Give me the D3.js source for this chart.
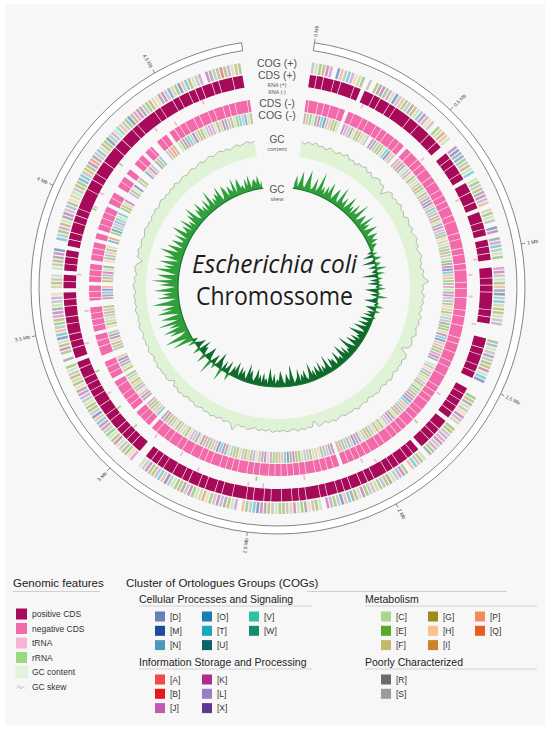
<!DOCTYPE html>
<html><head><meta charset="utf-8">
<script src="https://cdn.jsdelivr.net/npm/d3@7"></script>
<style>body{margin:0;background:#fff}svg{display:block}</style>
</head><body>
<svg id="c" width="550" height="731"></svg>
<script>
// ---------------- DATA ----------------
const genomeLength = 4.8; // Mb
const tickValues = [0, 0.5, 1, 1.5, 2, 2.5, 3, 3.5, 4, 4.5];
const tickLabels = ["0 Mb","0.5 Mb","1 Mb","1.5 Mb","2 Mb","2.5 Mb","3 Mb","3.5 Mb","4 Mb","4.5 Mb"];

// gene occupancy per bin: '#' gene, ':' new gene starts, '.' no gene
const cdsPlus = [
 "##:#:##:#:###:#.:##:#:##:#:###",
 "#:##:###:##:#..:#:#:##:#.:##:#",
 "#:#.:##:#:#.:#:#:#..:##:#:#:##",
 "##:#:#....:##:#:##:#:#...:#:#:",
 "#:#:#.:##:#:#:##.:#:#:##:#:#:#",
 "##:#:#:##:#:#:##:#:###:#:#:##:",
 "##:#:##:#:###:##:#:##:#:##:#:#",
 "#:##:#:#:#..:##:#:#:#:##:#:##:",
 "##:#:#:#:##:#.:##:#:#:##:#:##:",
 "#:#.:#:#.:#:#:#.:#:#:##:#:#:##",
 "###:##:#:###:####:##:###:#:###",
 "##:#:###:#:##:#:#:##:#:###:##."
].join("");
const cdsMinus = [
 "#:##:#:#:##:#.:#:##:#:##:#:#:#",
 "#:#:#.:#:##:#:#:##:#:##:#:#:#:",
 "##:#:###:#:##:#:##:#:###:#:##:",
 "###:#:##:###:#:##:##:#:##:###:",
 "#:#:#:##:#:#:##:#:#:#:##:#:##:",
 "#:#:#:#:#.:#:#:#:#:##:#:#:#:#:",
 "#:#:##:#:#:##:#:#:#:##:#:#:##:",
 "##:#:##:#:##:#.:#:#:#.:#:#:#:#",
 "#:#.:#:#:#..:##:#:#.:#:#:#:#..",
 "#:#:#.:#:#:#.:#:#:#.:#.:#:#:#:",
 "#.:#:#..:#:#.:#..:#:#.:#:..:#:",
 "#.:#:#:#:##:#:##:#:##:#:#:###:"
].join("");
// COG category of the gene in each bin ('.' = no COG)
const cogPlus = [
 "SCEGKJ.MPSTLHFECS.GRKEJCMSPESR",
 "GCTKLHS.EFGPCSJKMROESGCTSCESGR",
 "KLPHFECS.MKGRJTSCESGJKSCEPRMST",
 "FEGCSL.RKHEDCSRSEGKCTMPSJ.EGRC",
 "SHKLFCEGSJJKSJERMCGSTP.EKDSCRG",
 "LEFSSEKCGRTPMSEJK.CGSHRECKFSGE",
 "CSGRKMTSEP.JCGRLKSEHGFCEKSRGEC",
 "SMPTLGEKSC.RJHEGSCKGCESRKTPMSE",
 "GCSLKRHEFGSCESR.EKGCMTPSEGJKRC",
 "SLHEFGSCECSGRKMP.TSEJGCRKSLEHF",
 "CSGEOTSIEKQRSNCGEUSLCVPSEMGJKR",
 "SEGCHRKSOFEMPTGCSJ.KRSEBGLCIES"
].join("");
const cogMinus = [
 "GSECRKTMSPGECLKJSRHEGFCS.KRSEG",
 "CTMPSEJGKRCSLHEFCSGECGSRKMPTSE",
 "JGCRKSLEHFCSEGSCERKMTPSEGJCRKS",
 "LEHFGCSSREGCKTMPSGEJKR.CSHLEFC",
 "SGCESGRKMTPSEJGCRKLSHEFGCSEGSC",
 "RKMPTSEJGCKRSLEHFCGSSCEGKRMTPS",
 "GEJCKRSHLEFGSCGESCRKTMPSEJGKCR",
 "SLHEFCSGCSGEKRMTPSEGJCRKSHLEFG",
 "CSESGCRKMPTSEJGCKRSLHEFCSGSGEC",
 "RKTMPSGEJKCRSHELFGCSOQIEUNSDVC",
 "TSEGCKRSLEHMPSGCEOFKSJRGTCESIA",
 "GSCEKRTSMPEGCSJLHEFKRSGCETSOCG"
].join("");

// RNA genes (Mb)
const trnaPlus  = [0.23, 0.78, 1.03, 1.29, 1.99, 2.46, 2.52, 2.73, 3.21, 3.43, 3.71, 3.99, 4.05, 4.39, 4.61];
const rrnaPlus  = [3.04, 3.14, 3.31, 3.98, 4.19];
const trnaMinus = [0.56, 1.09, 1.18, 1.61, 2.04, 2.29, 2.82, 2.95, 3.56, 4.47];
const rrnaMinus = [1.76, 2.49];

// GC content (%) per window
const gcContent = [
 51.4,51.0,51.6,51.2,51.8,51.1,51.5,50.9,51.7,51.3,51.0,51.6,51.2,51.9,51.1,51.4,50.8,51.5,51.2,51.7,
 51.0,51.4,50.7,51.3,51.6,50.9,51.2,49.4,51.1,51.5,50.8,51.3,51.0,51.6,50.9,51.2,50.6,51.4,51.1,50.8,
 51.3,50.7,51.1,51.5,50.9,51.2,50.6,51.0,51.4,50.8,51.1,50.5,51.3,50.9,51.2,52.2,50.8,51.0,50.6,51.3,
 50.9,51.2,50.7,51.0,50.5,51.3,50.8,51.1,50.6,50.9,51.2,50.4,50.8,51.1,50.7,49.2,50.9,51.2,50.6,51.0,
 50.7,51.1,50.5,50.9,51.2,50.6,51.0,50.4,50.8,51.1,50.7,50.9,50.3,51.0,50.6,50.8,51.2,50.5,50.9,50.7,
 51.0,50.4,50.8,51.1,50.6,50.9,50.3,50.7,51.0,49.5,50.8,50.5,50.9,50.6,51.0,50.4,50.7,50.9,50.5,50.8,
 50.6,51.0,50.4,50.8,50.5,50.9,50.3,50.7,51.1,50.6,50.8,50.4,52.0,50.7,50.5,50.9,50.3,50.8,50.6,51.0,
 50.5,50.8,50.3,50.7,50.9,50.4,50.6,50.2,50.8,50.5,50.9,50.3,50.7,49.6,50.6,50.8,50.4,50.7,50.5,50.9,
 50.4,50.7,50.2,50.6,50.9,50.3,50.7,50.5,50.8,50.2,50.6,50.9,50.4,50.7,50.3,50.6,50.8,50.4,50.7,50.5,
 50.8,50.3,50.6,50.9,50.4,50.7,50.2,50.6,50.8,50.4,49.3,50.7,50.5,50.9,50.3,50.6,50.8,50.4,50.7,51.0,
 50.5,50.8,50.4,50.9,50.6,51.0,50.5,50.8,51.1,50.6,50.9,50.5,51.0,50.7,51.2,50.6,50.9,51.1,50.7,51.0,
 51.2,50.8,51.1,51.4,50.9,51.2,51.5,51.0,51.3,51.6,51.1,51.4,50.9,51.3,51.6,51.1,51.4,51.7,51.2,51.5
];

// GC skew (relative units, -10..10) per window
const gcSkew = [
 2,5,1,3,7,2,1,4,8,3, 1,2,6,1,3,9,2,4,1,5, 2,7,3,1,4,6,2,1,8,3, 2,5,1,3,7,2,4,1,6,2, 3,8,1,2,5,3,1,7,2,4, 1,3,6,2,1,5,3,2,4,1, 3,2,1,
 1,-2,2,-4,1,3,-1,-5,2,1, -3,4,-1,-2,3,-6,-1,2,-3,1, -4,2,-1,3,-5,-2,1,-3,4,-1, -2,-5,1,-1,3,-4,-2,2,-3,-1, -4,1,-2,-5,-1,
 -2,-5,-1,-3,-6,-2,-1,-4,-7,-2, -3,-1,-5,-2,-3,-6,-1,-2,-4,-8, -2,-3,-1,-5,-2,-4,-7,-1,-3,-2, -6,-2,-1,-4,-3,-5,-1,-2,-7,-3,
 -2,-4,-1,-6,-2,-3,-5,-1,-4,-2, -7,-3,-1,-2,-5,-2,-4,-1,-6,-3, -2,-1,-4,-8,-2,-3,-5,-1,-2,-4, -6,-2,-3,-1,-5,-2,-4,-7,-1,-3,
 -2,-5,-1,-4,-2,-6,-3,-1,-2,-5, -3,-7,-1,-2,-4,-2,-5,-1,-3,-6, -2,-4,-1,3,-5,-2,-1,-4,5,-2, -3,-6,-1,2,-4,-2,6,-1,-3,-5,
 -2,4,-1,-3,-2,-5,3,-1,-4,-2, -1,3,-2,
 3,8,2,5,10,3,1,7,4,9, 2,6,3,10,2,5,8,1,4,9, 3,7,2,5,10,4,1,8,3,6, 2,9,4,1,7,3,10,2,5,8, 1,4,9,3,6,2,8,4,1,7, 3,5,9,2,4,7,1,3,6,2,
 2,6,1,4,8,2,3,5,1,7, 2,4,1,6,3,8,2,1,5,3, 7,2,4,1,6,2,3,8,1,4, 2,5,3,7,1,2,6,4,1,5, 3,2,7,1,4,6,2,3,1,5, 2,6,1,3,4,2,5,1,3
];

// Legends
const featureLabels = ["positive CDS","negative CDS","tRNA","rRNA","GC content","GC skew"];
const featureColors = ["#a60a58","#f26aaa","#f7b4d7","#9ad97d","#e3f4da","none"];
const groupTitles = ["Cellular Processes and Signaling","Information Storage and Processing","Metabolism","Poorly Characterized"];
const groupCodes = [["D","M","N","O","T","U","V","W"],["A","B","J","K","L","X"],["C","E","F","G","H","I","P","Q"],["R","S"]];
const cogColorCodes = ["D","M","N","O","T","U","V","W","A","B","J","K","L","X","C","E","F","G","H","I","P","Q","R","S"];
const cogColorValues = ["#6a7fb9","#1a4c9c","#4f98b8","#1d7ab3","#18a9b8","#0c6369","#2cc3a2","#138d6e",
 "#f04a4a","#e3171c","#c35ab0","#ae2e8d","#9b7dc4","#5a3a91",
 "#a7d88c","#58a92b","#c3b86b","#9b8b1a","#f9c28e","#c8842a","#f28b5b","#e25f1c",
 "#6b6b6b","#9b9b9b"];
const trackLabels = ["COG (+)","CDS (+)","RNA (+)","RNA (-)","CDS (-)","COG (-)"];

// ---------------- DRAW ----------------
const cx = 278, cy = 287;
const rad = Math.PI/180;
const ang = d3.scaleLinear().domain([0, genomeLength]).range([8.5*rad, 351.5*rad]);
const cogColor = d3.scaleOrdinal().domain(cogColorCodes).range(cogColorValues);
const svg = d3.select("#c");
svg.append("rect").attr("x",5).attr("y",4).attr("width",540).attr("height",721).attr("fill","#f7f7f7");
const g = svg.append("g").attr("transform",`translate(${cx},${cy})`);
const arc = d3.arc();

// ideogram
g.append("path")
 .attr("d", arc({innerRadius:239, outerRadius:247, startAngle:ang(0), endAngle:ang(genomeLength)}))
 .attr("fill","#fff").attr("stroke","#666").attr("stroke-width",0.8);
tickValues.forEach((v,i)=>{
  const deg = ang(v)/rad;
  const tg = g.append("g").attr("transform",`rotate(${deg-90})`);
  tg.append("line").attr("x1",247).attr("x2",251).attr("stroke","#555").attr("stroke-width",0.6);
  const flip = deg > 180;
  tg.append("text")
   .attr("transform", flip ? "translate(253,0) rotate(180)" : "translate(253,0)")
   .attr("text-anchor", flip ? "end" : "start")
   .attr("dy","0.35em").attr("font-size",5).attr("fill","#444")
   .attr("font-family","Liberation Sans, Arial, sans-serif")
   .text(tickLabels[i]);
});

// gene runs
function geneRuns(str){
  const out=[]; let cur=null;
  for(let i=0;i<str.length;i++){
    const c=str[i];
    if(c==='.'){ if(cur){out.push(cur);cur=null;} continue; }
    if(c===':'||!cur){ if(cur) out.push(cur); cur={s:i,e:i+1}; } else cur.e=i+1;
  }
  if(cur) out.push(cur);
  return out;
}
function drawCDS(str, r0, r1, color){
  const bw = genomeLength/str.length, gap = 0.09*rad;
  g.append("g").selectAll("path").data(geneRuns(str)).join("path")
   .attr("d", d=>arc({innerRadius:r0, outerRadius:r1, startAngle:ang(d.s*bw)+gap, endAngle:ang(d.e*bw)-gap}))
   .attr("fill", color);
}
function drawCOG(str, cds, r0, r1){
  const bw = genomeLength/str.length, gap = 0.15*rad;
  const bins = [];
  for(let i=0;i<str.length;i++){
    const c = str[i]; if(c==='.') continue;
    const j = Math.floor((i+0.5)/str.length*cds.length);
    if(cds[j]==='.') continue;
    bins.push({i, c});
  }
  g.append("g").selectAll("path").data(bins).join("path")
   .attr("d", d=>arc({innerRadius:r0, outerRadius:r1, startAngle:ang(d.i*bw)+gap, endAngle:ang((d.i+1)*bw)-gap}))
   .attr("fill", d=>cogColor(d.c)).attr("opacity",0.5);
}
drawCOG(cogPlus, cdsPlus, 216, 227);
drawCDS(cdsPlus, 202, 214.5, "#a60a58");
drawCDS(cdsMinus, 177, 189, "#f26aaa");
drawCOG(cogMinus, cdsMinus, 165, 176);

function drawRNA(pos, r0, r1, color){
  g.append("g").selectAll("path").data(pos).join("path")
   .attr("d", d=>arc({innerRadius:r0, outerRadius:r1, startAngle:ang(d)-0.25*rad, endAngle:ang(d)+0.25*rad}))
   .attr("fill", color);
}
drawRNA(trnaPlus, 197, 201.5, "#f7b4d7");
drawRNA(rrnaPlus, 197, 201.5, "#9ad97d");
drawRNA(trnaMinus, 190.5, 195, "#f7b4d7");
drawRNA(rrnaMinus, 190.5, 195, "#9ad97d");

// GC content
const gcR = d3.scaleLinear().domain([46,54]).range([123,159]);
const gcAng = (d,i)=>ang((i+0.5)*genomeLength/gcContent.length);
g.append("path").datum(gcContent)
 .attr("d", d3.areaRadial().angle(gcAng).innerRadius(132).outerRadius(d=>gcR(d)))
 .attr("fill","#e0f3d6");
g.append("path").datum(gcContent)
 .attr("d", d3.lineRadial().angle(gcAng).radius(d=>gcR(d)))
 .attr("fill","none").attr("stroke","#8c9a88").attr("stroke-width",0.6);

// GC skew
const skR = d3.scaleLinear().domain([-10,10]).range([73,127]);
const skAng = (d,i)=>ang((i+0.5)*genomeLength/gcSkew.length);
g.append("path").datum(gcSkew)
 .attr("d", d3.areaRadial().angle(skAng).innerRadius(100).outerRadius(d=>skR(Math.max(0,d))))
 .attr("fill","#2f9f3b");
g.append("path").datum(gcSkew)
 .attr("d", d3.areaRadial().angle(skAng).innerRadius(d=>skR(Math.min(0,d))).outerRadius(100))
 .attr("fill","#0e6b2c");
g.append("path")
 .attr("d", arc({innerRadius:99.4, outerRadius:100.6, startAngle:ang(0), endAngle:ang(genomeLength)}))
 .attr("fill","#17752f");

// labels in gap
const lf = "Open Sans, DejaVu Sans, sans-serif";
const gapLabels = [
 {t:trackLabels[0], y:66.5, s:10.5},{t:trackLabels[1], y:78.8, s:10.5},
 {t:trackLabels[2], y:87, s:5.5},{t:trackLabels[3], y:93.5, s:5.5},
 {t:trackLabels[4], y:106.5, s:10.5},{t:trackLabels[5], y:118.8, s:10.5},
 {t:"GC", y:142.5, s:10},{t:"content", y:150.5, s:5.5},
 {t:"GC", y:192.5, s:10},{t:"skew", y:200.5, s:5.5}
];
svg.append("g").selectAll("text").data(gapLabels).join("text")
 .attr("x",277).attr("y",d=>d.y).attr("text-anchor","middle")
 .attr("font-size",d=>d.s).attr("fill","#555")
 .attr("font-family",d=>d.s>9?"Liberation Sans, Arial, sans-serif":lf).text(d=>d.t);

// center title
svg.append("text").attr("x",274.5).attr("y",273).attr("text-anchor","middle")
 .attr("font-size",25).attr("font-style","italic").attr("fill","#1c1c1c").attr("font-family",lf)
 .attr("textLength",165).attr("lengthAdjust","spacingAndGlyphs").text("Escherichia coli");
svg.append("text").attr("x",274.5).attr("y",305).attr("text-anchor","middle")
 .attr("font-size",25).attr("fill","#1c1c1c").attr("font-family",lf)
 .attr("textLength",157).attr("lengthAdjust","spacingAndGlyphs").text("Chromossome");

// ---------------- LEGENDS ----------------
const ff = "Liberation Sans, Arial, sans-serif";
const L = svg.append("g").attr("font-family",ff);
L.append("text").attr("x",13).attr("y",587).attr("font-size",11.5).attr("fill","#222").text("Genomic features");
L.append("line").attr("x1",13).attr("x2",100).attr("y1",591.5).attr("y2",591.5).attr("stroke","#cfcfcf");
const fy = [614,628.5,643,657.5,672,687];
featureLabels.forEach((t,i)=>{
  if(featureColors[i]!=="none"){
    L.append("rect").attr("x",16).attr("y",fy[i]-5.5).attr("width",11).attr("height",11)
     .attr("fill",featureColors[i]).attr("stroke",i===4?"#d2eac6":"none").attr("stroke-width",0.6);
  } else {
    L.append("path").attr("d",`M17,${fy[i]+1.5} l2,-3 l2,3.5 l2,-2.5 l2,2`).attr("fill","none").attr("stroke","#aaa").attr("stroke-width",0.7);
  }
  L.append("text").attr("x",32).attr("y",fy[i]+3).attr("font-size",8.5).attr("fill","#333").text(t);
});

L.append("text").attr("x",126).attr("y",587).attr("font-size",11.5).attr("fill","#222").text("Cluster of Ortologues Groups (COGs)");
L.append("line").attr("x1",307).attr("x2",507).attr("y1",591.5).attr("y2",591.5).attr("stroke","#cfcfcf");
const groupPos = [{x:139,y:603,sx:155},{x:139,y:666,sx:155},{x:365,y:603,sx:381},{x:365,y:666,sx:381}];
groupTitles.forEach((t,gi)=>{
  const p = groupPos[gi];
  L.append("text").attr("x",p.x).attr("y",p.y).attr("font-size",10.5).attr("fill","#222").text(t);
  L.append("line").attr("x1",p.x).attr("x2",p.x+(gi<2?173:172)).attr("y1",p.y+3).attr("y2",p.y+3).attr("stroke","#d2d2d2");
  groupCodes[gi].forEach((c,k)=>{
    const col = Math.floor(k/3), row = k%3;
    const x = p.sx + col*47, yc = p.y + 13.5 + row*14.3;
    L.append("rect").attr("x",x).attr("y",yc-5).attr("width",10).attr("height",10).attr("fill",cogColor(c));
    L.append("text").attr("x",x+15).attr("y",yc+3).attr("font-size",8.5).attr("fill","#333").text(`[${c}]`);
  });
});
</script>
</body></html>
